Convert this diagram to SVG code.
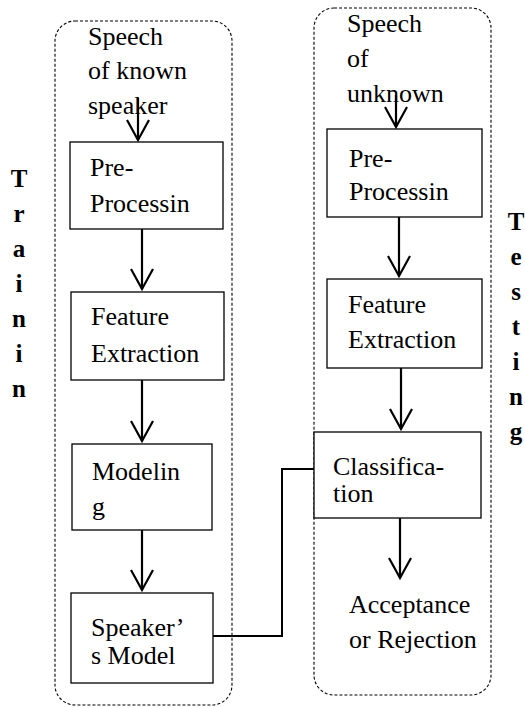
<svg xmlns="http://www.w3.org/2000/svg" width="525" height="707" viewBox="0 0 525 707" font-family="'Liberation Serif', serif">
<style>
.t{font-family:'Liberation Serif',serif;font-size:26px;fill:#000}
.b{font-family:'Liberation Serif',serif;font-size:25px;font-weight:bold;fill:#000;text-anchor:middle}
.box{fill:#fff;stroke:#000;stroke-width:1.3}
.grp{fill:none;stroke:#000;stroke-width:1.1;stroke-dasharray:3 2}
.ar{fill:none;stroke:#000;stroke-width:2.2;marker-end:url(#v)}
.ln{fill:none;stroke:#000;stroke-width:2}
</style>
<defs>
<marker id="v" markerUnits="userSpaceOnUse" markerWidth="26" markerHeight="28" refX="21" refY="12" orient="auto">
<path d="M1,1 L21,12 L1,23" fill="none" stroke="#000" stroke-width="2.2"/>
</marker>
</defs>
<rect width="525" height="707" fill="#fff"/>
<g id="training-group">
<rect class="grp" x="55" y="21" width="177" height="684" rx="20" ry="20"/>
</g>
<g id="testing-group">
<rect class="grp" x="314" y="8" width="177" height="687" rx="20" ry="20"/>
</g>
<g id="label-train">
<text class="b" x="19" y="187">T</text>
<text class="b" x="19" y="222">r</text>
<text class="b" x="19" y="257">a</text>
<text class="b" x="19" y="292">i</text>
<text class="b" x="19" y="327">n</text>
<text class="b" x="19" y="362">i</text>
<text class="b" x="19" y="397">n</text>
</g>
<g id="label-testing">
<text class="b" x="516" y="230">T</text>
<text class="b" x="516" y="265">e</text>
<text class="b" x="516" y="300">s</text>
<text class="b" x="516" y="335">t</text>
<text class="b" x="516" y="370">i</text>
<text class="b" x="516" y="405">n</text>
<text class="b" x="516" y="440">g</text>
</g>
<g id="connectors">
<path class="ar" d="M138,98 V140"/>
<path class="ar" d="M142,229 V289"/>
<path class="ar" d="M142,380 V441"/>
<path class="ar" d="M142,530 V590"/>
<path class="ar" d="M396,95 V127"/>
<path class="ar" d="M399,217 V276"/>
<path class="ar" d="M401,368 V429"/>
<path class="ar" d="M400,518 V578"/>
<path class="ln" d="M213,636 H282 V469 H314"/>
</g>
<g id="speech-known">
<text class="t" x="88" y="45">Speech</text>
<text class="t" x="88" y="79">of known</text>
<text class="t" x="88" y="114">speaker</text>
</g>
<g id="preprocess-train">
<rect class="box" x="70" y="142" width="153" height="87"/>
<text class="t" x="90" y="176">Pre-</text>
<text class="t" x="90" y="212">Processin</text>
</g>
<g id="feature-train">
<rect class="box" x="71" y="292" width="153" height="88"/>
<text class="t" x="91" y="325">Feature</text>
<text class="t" x="91" y="362">Extraction</text>
</g>
<g id="modeling">
<rect class="box" x="72" y="444" width="140" height="86"/>
<text class="t" x="92" y="480">Modelin</text>
<text class="t" x="92" y="515">g</text>
</g>
<g id="speaker-model">
<rect class="box" x="71" y="593" width="142" height="90"/>
<text class="t" x="91" y="636">Speaker’</text>
<text class="t" x="91" y="664">s Model</text>
</g>
<g id="speech-unknown">
<text class="t" x="347" y="32">Speech</text>
<text class="t" x="347" y="67">of</text>
<text class="t" x="347" y="102">unknown</text>
</g>
<g id="preprocess-test">
<rect class="box" x="327" y="129" width="155" height="88"/>
<text class="t" x="349" y="167">Pre-</text>
<text class="t" x="349" y="200">Processin</text>
</g>
<g id="feature-test">
<rect class="box" x="327" y="279" width="155" height="89"/>
<text class="t" x="348" y="313">Feature</text>
<text class="t" x="348" y="348">Extraction</text>
</g>
<g id="classification">
<rect class="box" x="314" y="432" width="167" height="86"/>
<text class="t" x="333" y="475">Classifica-</text>
<text class="t" x="333" y="502">tion</text>
</g>
<g id="decision">
<text class="t" x="349" y="613">Acceptance</text>
<text class="t" x="349" y="648">or Rejection</text>
</g>
</svg>
